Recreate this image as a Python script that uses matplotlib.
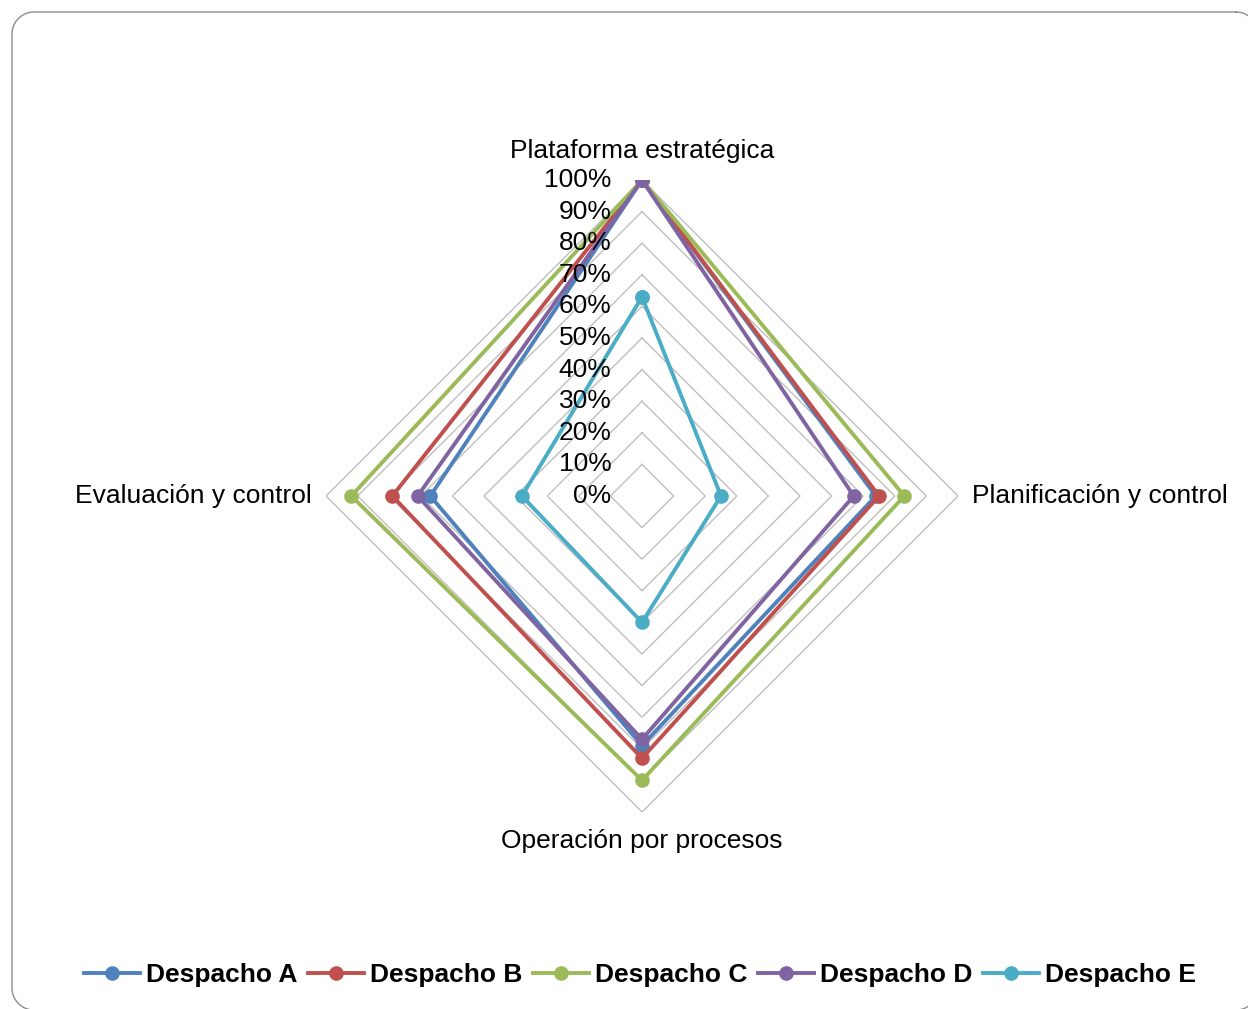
import numpy as np
import matplotlib
matplotlib.use("Agg")
import matplotlib.pyplot as plt

plt.rcParams['font.family'] = ['Liberation Sans', 'DejaVu Sans']

# Data
categories = ["Plataforma estratégica", "Planificación y control",
              "Operación por procesos", "Evaluación y control"]
series_names = ["Despacho A", "Despacho B", "Despacho C", "Despacho D", "Despacho E"]
despacho_a = [100, 74, 79, 67]
despacho_b = [100, 75, 83, 79]
despacho_c = [100, 83, 90, 92]
despacho_d = [100, 67, 77, 71]
despacho_e = [63, 25, 40, 38]
series_values = [despacho_a, despacho_b, despacho_c, despacho_d, despacho_e]
ring_levels = [10, 20, 30, 40, 50, 60, 70, 80, 90, 100]
tick_labels = ["0%", "10%", "20%", "30%", "40%", "50%", "60%", "70%", "80%", "90%", "100%"]

colors = ["#4F81BD", "#C0504D", "#9BBB59", "#8064A2", "#4BACC6"]

W, H = 1248, 1009
fig = plt.figure(figsize=(W / 100, H / 100), dpi=100)


def rounded_rect(x0, y0, x1, y1, r, steps=24):
    """Polyline outline of a rounded rectangle (pixel space, y downward)."""
    pts = []
    corners = [((x1 - r, y0 + r), -90, 0), ((x1 - r, y1 - r), 0, 90),
               ((x0 + r, y1 - r), 90, 180), ((x0 + r, y0 + r), 180, 270)]
    for (ccx, ccy), a0, a1 in corners:
        t = np.radians(np.linspace(a0, a1, steps))
        pts.extend(zip(ccx + r * np.cos(t), ccy + r * np.sin(t)))
    pts.append(pts[0])
    return np.array(pts)


# Rounded chart-area border drawn in pixel space
bg = fig.add_axes([0, 0, 1, 1])
bg.set_xlim(0, W)
bg.set_ylim(H, 0)
bg.axis("off")
outline = rounded_rect(12, 12, 1258, 1010, 22)
bg.plot(outline[:, 0], outline[:, 1], color="#8C8C8C", linewidth=1.0)

cx, cy, rad = 642, 496, 316
ax = fig.add_axes([(cx - rad) / W, (H - cy - rad) / H, 2 * rad / W, 2 * rad / H],
                  projection="polar")
ax.set_theta_offset(np.pi / 2)
ax.set_theta_direction(-1)
ax.set_ylim(0, 100)
ax.grid(False)
ax.spines["polar"].set_visible(False)
ax.set_xticks([])
ax.set_yticks([])
ax.patch.set_alpha(0)

n = len(categories)
angles = np.linspace(0, 2 * np.pi, n, endpoint=False)
closed_angles = np.append(angles, angles[0])

# Diamond gridlines
for lvl in ring_levels:
    ax.plot(closed_angles, [lvl] * (n + 1), color="#BFBFBF", linewidth=1.0, zorder=1)

# Series
for name, vals, col in zip(series_names, series_values, colors):
    v = np.append(vals, vals[0])
    ax.plot(closed_angles, v, color=col, linewidth=2.8, marker="o",
            markersize=9.5, label=name, zorder=3, solid_joinstyle="round")

fs = 19

# Radial value labels
for i, lab in enumerate(tick_labels):
    ax.annotate(lab, xy=(0, i * 10), xycoords="data", xytext=(-22, 0),
                textcoords="offset points", ha="right", va="center",
                fontsize=fs, color="black", zorder=4)

# Category labels
ax.annotate(categories[0], xy=(angles[0], 100), xytext=(0, 21),
            textcoords="offset points", ha="center", va="center", fontsize=fs)
ax.annotate(categories[1], xy=(angles[1], 100), xytext=(10, 0),
            textcoords="offset points", ha="left", va="center", fontsize=fs)
ax.annotate(categories[2], xy=(angles[2], 100), xytext=(0, -21),
            textcoords="offset points", ha="center", va="center", fontsize=fs)
ax.annotate(categories[3], xy=(angles[3], 100), xytext=(-10, 0),
            textcoords="offset points", ha="right", va="center", fontsize=fs)

handles, labels = ax.get_legend_handles_labels()
leg = fig.legend(handles, labels, loc="center", ncol=5,
                 bbox_to_anchor=(640 / W, 1 - 975 / H), frameon=False,
                 prop={"size": fs, "weight": "bold"},
                 handlelength=2.1, handletextpad=0.23, columnspacing=0.42,
                 borderaxespad=0)

fig.savefig("out.png", dpi=100)
